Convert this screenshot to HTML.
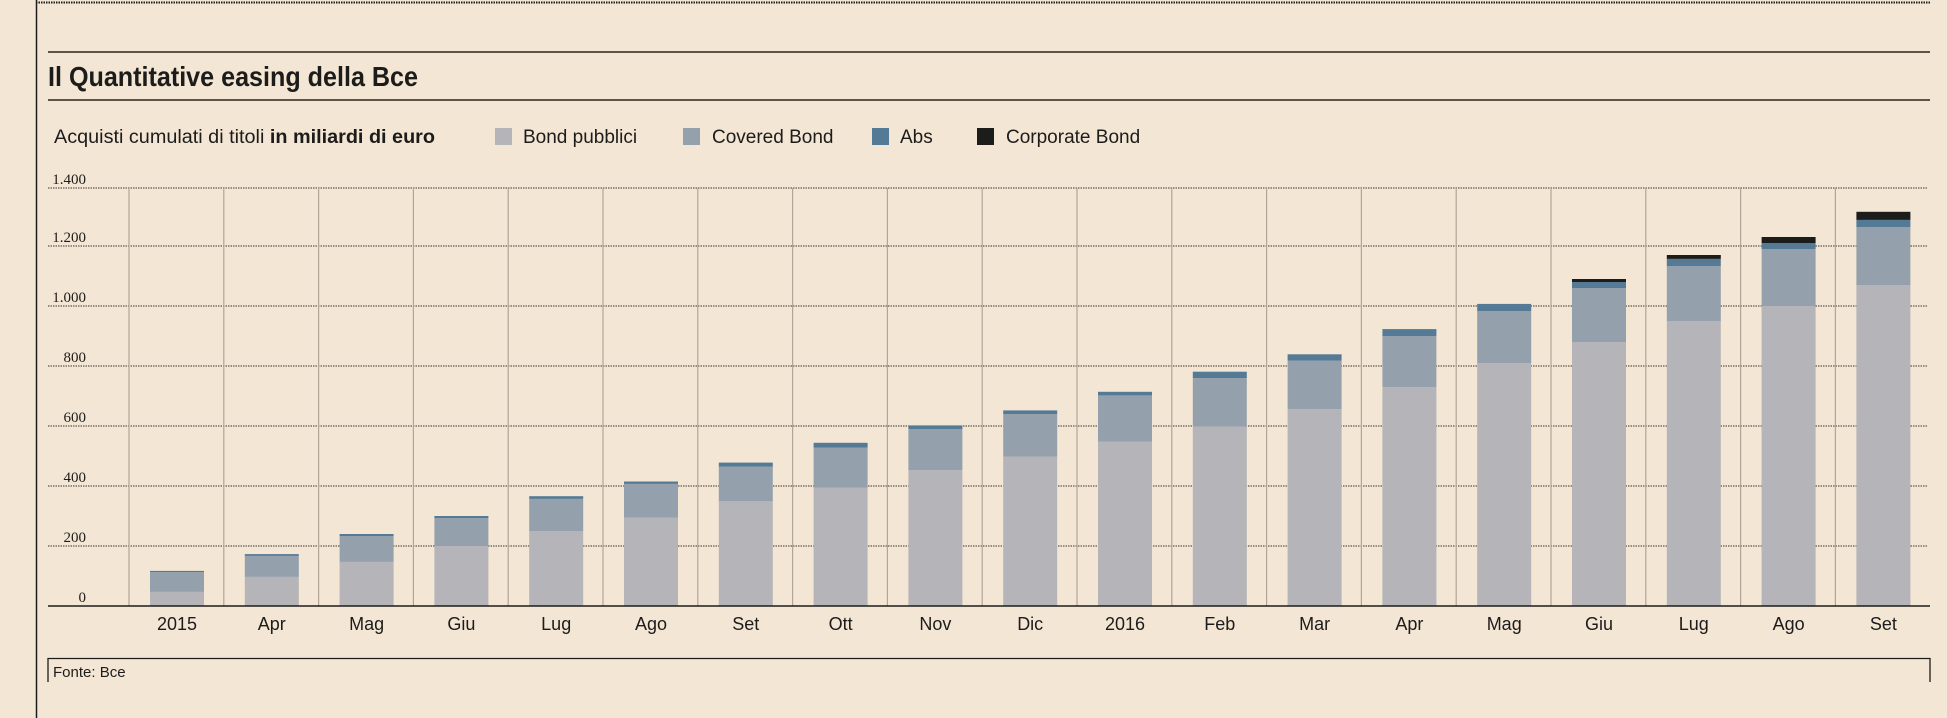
<!DOCTYPE html>
<html><head><meta charset="utf-8"><style>
html,body{margin:0;padding:0;background:#f4e6d5;}
svg{display:block;}
text{font-family:"Liberation Sans Narrow","Liberation Sans",sans-serif;fill:#1c1c1a;}
text.ser{font-family:"Liberation Serif",serif;font-size:15px;}
</style></head><body>
<svg width="1947" height="718" viewBox="0 0 1947 718" xmlns="http://www.w3.org/2000/svg">
<rect width="1947" height="718" fill="#f4e6d5"/>
<line x1="36.5" y1="0" x2="36.5" y2="718" stroke="#1c1c1a" stroke-width="1.5"/>
<line x1="36" y1="2.5" x2="1930" y2="2.5" stroke="#1c1c1a" stroke-width="2" stroke-dasharray="1.5 1"/>
<line x1="48" y1="52" x2="1930" y2="52" stroke="#5a5548" stroke-width="2"/>
<line x1="48" y1="100" x2="1930" y2="100" stroke="#5a5548" stroke-width="2"/>
<text x="48" y="86" font-size="28" font-weight="bold" textLength="370" lengthAdjust="spacingAndGlyphs">Il Quantitative easing della Bce</text>
<text x="54" y="143" font-size="19" textLength="381" lengthAdjust="spacingAndGlyphs"><tspan>Acquisti cumulati di titoli </tspan><tspan font-weight="bold">in miliardi di euro</tspan></text>
<rect x="495" y="128" width="17" height="17" fill="#b5b5b9"/><text x="523" y="143" font-size="19">Bond pubblici</text>
<rect x="683" y="128" width="17" height="17" fill="#94a1ac"/><text x="712" y="143" font-size="19">Covered Bond</text>
<rect x="872" y="128" width="17" height="17" fill="#557a96"/><text x="900" y="143" font-size="19">Abs</text>
<rect x="977" y="128" width="17" height="17" fill="#1c1c1a"/><text x="1006" y="143" font-size="19">Corporate Bond</text>
<g id="grid" stroke="#3a3630" stroke-width="1" stroke-dasharray="1.5 1">
<line x1="48" y1="188" x2="1928" y2="188"/><line x1="48" y1="246" x2="1928" y2="246"/>
<line x1="48" y1="306" x2="1928" y2="306"/><line x1="48" y1="366" x2="1928" y2="366"/>
<line x1="48" y1="426" x2="1928" y2="426"/><line x1="48" y1="486" x2="1928" y2="486"/>
<line x1="48" y1="546" x2="1928" y2="546"/>
</g>
<g text-anchor="end">
<text class="ser" x="86" y="184">1.400</text><text class="ser" x="86" y="242">1.200</text><text class="ser" x="86" y="302">1.000</text>
<text class="ser" x="86" y="362">800</text><text class="ser" x="86" y="422">600</text><text class="ser" x="86" y="482">400</text>
<text class="ser" x="86" y="542">200</text><text class="ser" x="86" y="602">0</text>
</g>
<g id="seps" stroke="#b0a597" stroke-width="1.2"></g>
<g id="bars"></g>
<line x1="48" y1="606" x2="1930" y2="606" stroke="#1c1c1a" stroke-width="1.5"/>
<g id="xl" font-size="18" text-anchor="middle"></g>
<path d="M48 682 V658.5 H1930 V682" fill="none" stroke="#1c1c1a" stroke-width="1.3"/>
<text x="53" y="677" font-size="15">Fonte: Bce</text>
<script>
var d=[[47,113,117,117],[97,167,173,173],[147,233,240,240],[200,293,300,300],[249,357,366,366],[295,407,415,415],[349,465,478,478],[395,528,544,544],[453,590,602,602],[498,640,652,652],[548,702,714,714],[598,760,781,781],[656,818,839,839],[730,900,923,923],[810,983,1007,1007],[880,1060,1080,1090],[950,1133,1157,1170],[1000,1190,1210,1230],[1070,1263,1287,1314]];
var lab=["2015","Apr","Mag","Giu","Lug","Ago","Set","Ott","Nov","Dic","2016","Feb","Mar","Apr","Mag","Giu","Lug","Ago","Set"];
var ns="http://www.w3.org/2000/svg",B=document.getElementById("bars"),S=document.getElementById("seps"),X=document.getElementById("xl");
function y(v){return 606-v*0.3;}
for(var i=0;i<19;i++){var sx=129+i*94.8;var l=document.createElementNS(ns,"line");l.setAttribute("x1",sx);l.setAttribute("x2",sx);l.setAttribute("y1",188);l.setAttribute("y2",606);S.appendChild(l);}
var cols=["#b5b5b9","#94a1ac","#557a96","#1c1c1a"];
for(var i=0;i<19;i++){var x=150+i*94.8,p=0;
for(var k=0;k<4;k++){var v=d[i][k];if(v>p){var r=document.createElementNS(ns,"rect");r.setAttribute("x",x);r.setAttribute("width",54);r.setAttribute("y",y(v));r.setAttribute("height",y(p)-y(v));r.setAttribute("fill",cols[k]);B.appendChild(r);}p=v;}
var t=document.createElementNS(ns,"text");t.setAttribute("x",x+27);t.setAttribute("y",630);t.textContent=lab[i];X.appendChild(t);}
</script>
</svg>
</body></html>
